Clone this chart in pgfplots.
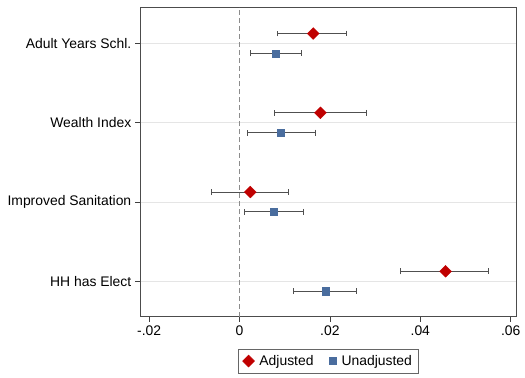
\documentclass[border=0pt]{standalone}
\usepackage{fontspec}
\setmainfont{Liberation Sans}
\usepackage{pgfplots}
\pgfplotsset{compat=1.18}
\definecolor{adjred}{HTML}{C00000}
\definecolor{unblue}{HTML}{4A6D9E}
\definecolor{ebar}{HTML}{505050}
\begin{document}
\fontsize{14}{16}\selectfont
\begin{tikzpicture}
\begin{axis}[name=ax, scale only axis, width=379pt, height=312pt,
  xmin=-0.022, xmax=0.0613, ymin=0.55, ymax=4.46,
  scaled x ticks=false,
  xtick={-0.02,0,0.02,0.04,0.06}, xticklabels={-.02,0,.02,.04,.06},
  ytick={1,2,3,4},
  yticklabels={HH has Elect, Improved Sanitation, Wealth Index, Adult Years Schl.},
  tick align=outside, major tick length=5pt,
  xtick pos=bottom, ytick pos=left,
  tick style={color=black!75, line width=0.8pt},
  axis line style={color=black!70, line width=0.8pt},
  ymajorgrids, grid style={color=black!10, line width=0.8pt},
  xticklabel style={yshift=1pt}, yticklabel style={xshift=1pt},
  legend style={at={(0.5,-0.1026)}, anchor=north, legend columns=2,
    draw=black!60, line width=0.6pt, font=\fontsize{14}{16}\selectfont,
    inner xsep=4pt, inner ysep=4pt,
    /tikz/every odd column/.append style={column sep=3pt},
    /tikz/every even column/.append style={column sep=14pt}},
  legend cell align=left,
]
\draw[dashed, color=black!45, line width=0.8pt, dash pattern=on 5pt off 3pt]
  (axis cs:0,0.55) -- (axis cs:0,4.46);
\addplot[only marks, mark=square*, mark size=4.2pt, mark options={rotate=45}, color=adjred,
  error bars/.cd, x dir=both, x explicit,
  error bar style={color=ebar, line width=1pt},
  error mark options={rotate=90, mark size=3pt, color=ebar, line width=1pt}]
  coordinates {
  (0.0163,4.125) += (0.0074,0) -= (0.0079,0)
  (0.0179,3.125) += (0.0101,0) -= (0.0101,0)
  (0.0024,2.125) += (0.0084,0) -= (0.0086,0)
  (0.0456,1.125) += (0.0095,0) -= (0.0099,0)
  };
\addlegendentry{Adjusted}
\addplot[only marks, mark=square*, mark size=3.6pt, color=unblue,
  error bars/.cd, x dir=both, x explicit,
  error bar style={color=ebar, line width=1pt},
  error mark options={rotate=90, mark size=3pt, color=ebar, line width=1pt}]
  coordinates {
  (0.0080,3.875) += (0.0057,0) -= (0.0056,0)
  (0.0092,2.875) += (0.0077,0) -= (0.0075,0)
  (0.0075,1.875) += (0.0066,0) -= (0.0065,0)
  (0.0191,0.875) += (0.0068,0) -= (0.0071,0)
  };
\addlegendentry{Unadjusted}
\end{axis}
\path ([xshift=-141pt,yshift=-61pt]ax.south west) rectangle ([xshift=5pt,yshift=7pt]ax.north east);
\end{tikzpicture}
\end{document}
